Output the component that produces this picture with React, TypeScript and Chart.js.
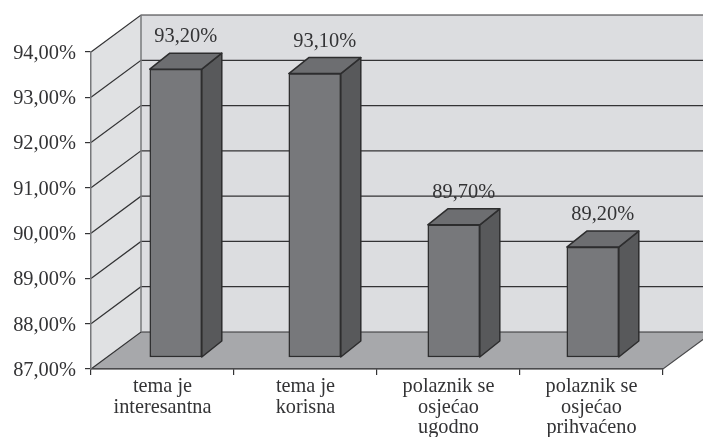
import React, { useEffect, useRef } from "react";
import { Chart, registerables } from "chart.js";

Chart.register(...registerables);

const categories = [
  ["tema je", "interesantna"],
  ["tema je", "korisna"],
  ["polaznik se", "osjećao", "ugodno"],
  ["polaznik se", "osjećao", "prihvaćeno"],
];
const percentages = [93.2, 93.1, 89.7, 89.2];
const yTicks = [87, 88, 89, 90, 91, 92, 93, 94];

const FONT = '"Liberation Serif", serif';
const fmt = (v: number) => v.toFixed(2).replace(".", ",") + "%";

// 3D projection of the chart box
const WALL_DX = 50;
const WALL_DY = 37;
const BAR_DX = 20;
const BAR_DY = 16;

function poly(ctx: CanvasRenderingContext2D, pts: number[][], fill: string | null, stroke: string | null, lw = 1) {
  ctx.beginPath();
  pts.forEach((p, i) => (i ? ctx.lineTo(p[0], p[1]) : ctx.moveTo(p[0], p[1])));
  if (fill) {
    ctx.closePath();
    ctx.fillStyle = fill;
    ctx.fill();
  }
  if (stroke) {
    ctx.strokeStyle = stroke;
    ctx.lineWidth = lw;
    ctx.stroke();
  }
}

const box3d = {
  id: "box3d",
  beforeDraw(chart: any) {
    const { ctx, scales } = chart;
    const y = scales.y;
    const x = scales.x;
    const l = x.left, r = x.right, t = y.getPixelForValue(94), b = y.getPixelForValue(87);
    ctx.save();
    ctx.fillStyle = "#ffffff";
    ctx.fillRect(0, 0, chart.width, chart.height);
    poly(ctx, [[l + WALL_DX, t - WALL_DY], [r + WALL_DX, t - WALL_DY], [r + WALL_DX, b - WALL_DY], [l + WALL_DX, b - WALL_DY]], "#dcdde0", null);
    poly(ctx, [[l, t], [l + WALL_DX, t - WALL_DY], [l + WALL_DX, b - WALL_DY], [l, b]], "#e0e1e3", null);
    poly(ctx, [[l, b], [r, b], [r + WALL_DX, b - WALL_DY], [l + WALL_DX, b - WALL_DY]], "#a7a8ab", null);
    for (const v of yTicks) {
      const py = y.getPixelForValue(v);
      poly(ctx, [[l, py], [l + WALL_DX, py - WALL_DY], [r + WALL_DX, py - WALL_DY]], null, "#333335", 1.2);
    }
    poly(ctx, [[l + WALL_DX, t - WALL_DY], [l + WALL_DX, b - WALL_DY]], null, "#77787b", 1.5);
    poly(ctx, [[l, b], [r, b], [r + WALL_DX, b - WALL_DY]], null, "#4a4a4c", 1.2);
    ctx.restore();
  },
  beforeDatasetsDraw(chart: any) {
    const { ctx } = chart;
    ctx.save();
    ctx.lineJoin = "round";
    for (const bar of chart.getDatasetMeta(0).data) {
      const xl = bar.x - bar.width / 2, xr = bar.x + bar.width / 2;
      poly(ctx, [[xr, bar.y], [xr + BAR_DX, bar.y - BAR_DY], [xr + BAR_DX, bar.base - BAR_DY], [xr, bar.base]], "#58595b", "#2d2d2e", 1.5);
      poly(ctx, [[xl, bar.y], [xl + BAR_DX, bar.y - BAR_DY], [xr + BAR_DX, bar.y - BAR_DY], [xr, bar.y]], "#6d6e71", "#2d2d2e", 1.5);
    }
    ctx.restore();
  },
  afterDatasetsDraw(chart: any) {
    const { ctx } = chart;
    ctx.save();
    ctx.font = `20.4px ${FONT}`;
    ctx.fillStyle = "#333335";
    ctx.textAlign = "center";
    ctx.textBaseline = "middle";
    chart.getDatasetMeta(0).data.forEach((bar: any, i: number) => {
      ctx.fillText(fmt(percentages[i]), bar.x + BAR_DX / 2, bar.y - BAR_DY - 16);
    });
    ctx.restore();
  },
};

export default function App() {
  const ref = useRef<HTMLCanvasElement>(null);
  useEffect(() => {
    const chart = new Chart(ref.current!, {
      type: "bar",
      plugins: [box3d],
      data: {
        labels: categories as any,
        datasets: [
          {
            data: percentages.map((y, x) => ({ x, y })) as any,
            xAxisID: "barX",
            yAxisID: "barY",
            base: 86.73,
            barThickness: 52,
            backgroundColor: "#77787b",
            borderColor: "#2d2d2e",
            borderWidth: 1.5,
            borderSkipped: false,
            clip: false as any,
          },
        ],
      },
      options: {
        responsive: false,
        animation: false,
        devicePixelRatio: 1,
        layout: { padding: { left: 0, top: 52, right: 40, bottom: 0 } },
        plugins: { legend: { display: false }, tooltip: { enabled: false }, title: { display: false } },
        scales: {
          x: {
            type: "category",
            offset: true,
            position: "bottom",
            afterFit: (s: any) => { s.height = 68; },
            grid: { offset: true, drawOnChartArea: false, drawTicks: true, tickLength: 6, color: "#333335", lineWidth: 1.2 },
            border: { color: "#4a4a4c", width: 1.2 },
            ticks: {
              autoSkip: false,
              maxRotation: 0,
              minRotation: 0,
              padding: 2,
              color: "#333335",
              font: { family: FONT, size: 20.3, lineHeight: 1.0 },
            },
          },
          y: {
            type: "linear",
            position: "left",
            min: 87,
            max: 94,
            afterFit: (s: any) => { s.width = 91; },
            grid: { drawOnChartArea: false, drawTicks: true, tickLength: 6, color: "#333335", lineWidth: 1.2 },
            border: { color: "#77787b", width: 1.5 },
            ticks: {
              stepSize: 1,
              padding: 9,
              labelOffset: 1.5,
              color: "#333335",
              font: { family: FONT, size: 20.4 },
              callback: (v: any) => fmt(Number(v)),
            },
          },
          // planes on which the bars stand, set back inside the 3D box
          barX: { type: "linear", display: false, offset: false, grid: { offset: false }, bounds: "data", min: -0.61, max: 3.505 },
          barY: { type: "linear", display: false, bounds: "data", min: 86.46, max: 93.585 },
        },
      } as any,
    });
    return () => chart.destroy();
  }, []);
  return (
    <div style={{ position: "fixed", left: 0, top: 0, width: 703, height: 437 }}>
      <canvas ref={ref} width={703} height={437} style={{ display: "block" }} />
    </div>
  );
}
